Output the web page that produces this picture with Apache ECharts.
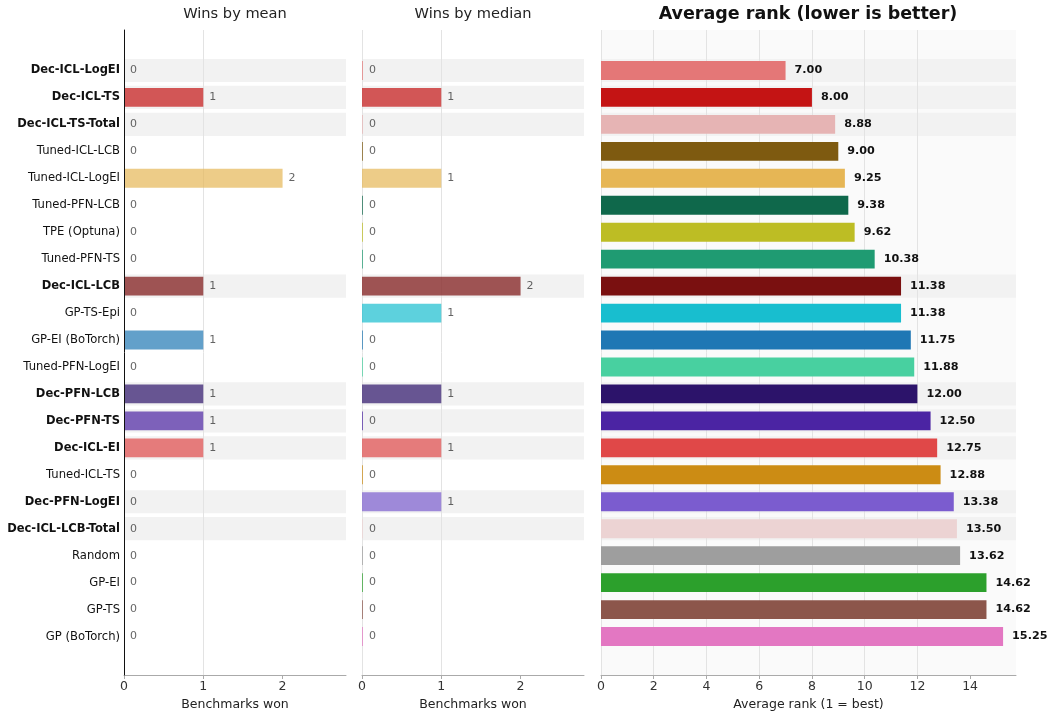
<!DOCTYPE html>
<html>
<head>
<meta charset="utf-8">
<title>Benchmark wins and average rank</title>
<script src="https://cdn.jsdelivr.net/npm/echarts@6/dist/echarts.min.js"></script>
<style>
  html, body { margin: 0; padding: 0; background: #ffffff; }
  #chart { width: 1050px; height: 711px; }
</style>
</head>
<body>
<div id="chart"></div>
<script>
// Methods, ordered by average rank (best first)
const methods = [
  'Dec-ICL-LogEI', 'Dec-ICL-TS', 'Dec-ICL-TS-Total', 'Tuned-ICL-LCB', 'Tuned-ICL-LogEI',
  'Tuned-PFN-LCB', 'TPE (Optuna)', 'Tuned-PFN-TS', 'Dec-ICL-LCB', 'GP-TS-Epi',
  'GP-EI (BoTorch)', 'Tuned-PFN-LogEI', 'Dec-PFN-LCB', 'Dec-PFN-TS', 'Dec-ICL-EI',
  'Tuned-ICL-TS', 'Dec-PFN-LogEI', 'Dec-ICL-LCB-Total', 'Random', 'GP-EI', 'GP-TS', 'GP (BoTorch)'
];

// Methods highlighted in bold with a shaded row
const highlighted = [
  'Dec-ICL-LogEI', 'Dec-ICL-TS', 'Dec-ICL-TS-Total', 'Dec-ICL-LCB', 'Dec-PFN-LCB',
  'Dec-PFN-TS', 'Dec-ICL-EI', 'Dec-PFN-LogEI', 'Dec-ICL-LCB-Total'
];

// Number of benchmarks won, judged by mean and by median
const winsMean   = [0, 1, 0, 0, 2, 0, 0, 0, 1, 0, 1, 0, 1, 1, 1, 0, 0, 0, 0, 0, 0, 0];
const winsMedian = [0, 1, 0, 0, 1, 0, 0, 0, 2, 1, 0, 0, 1, 0, 1, 0, 1, 0, 0, 0, 0, 0];

// Average rank across benchmarks (1 = best)
const avgRank = [7.00, 8.00, 8.88, 9.00, 9.25, 9.38, 9.62, 10.38, 11.38, 11.38, 11.75,
                 11.88, 12.00, 12.50, 12.75, 12.88, 13.38, 13.50, 13.62, 14.62, 14.62, 15.25];

// One colour per method
const colors = [
  '#e47777', '#c41414', '#e6b4b4', '#7e5a10', '#e6b655', '#0f684b', '#bdbd24', '#1f9b72',
  '#7a1010', '#18becf', '#1f77b4', '#48d0a0', '#2c136a', '#4b24a3', '#e04848', '#cc8c14',
  '#7b5ccf', '#ecd3d3', '#9e9e9e', '#2ca02c', '#8c564b', '#e377c2'
];

// Tick labels
const winTicks  = [0, 1, 2];
const rankTicks = [0, 2, 4, 6, 8, 10, 12, 14];

const FONT = 'DejaVu Sans';
const WIN_MAX = 2.8;
const RANK_MAX = 15.74;

// Panel geometry: outer frame spans the padded axes, inner grid holds the 22 rows
const TOP = 30, BOTTOM = 36;             // frame
const ROW_TOP = 57, ROW_BOTTOM = 61;     // rows
const panels = [
  { left: 124, width: 222 },
  { left: 362, width: 222 },
  { left: 601, width: 415 }
];

const grids = [];
panels.forEach(p => {
  grids.push({ left: p.left, width: p.width, top: TOP, bottom: BOTTOM,
               containLabel: false, outerBoundsMode: 'none', show: false, borderWidth: 0 });
  grids.push({ left: p.left, width: p.width, top: ROW_TOP, bottom: ROW_BOTTOM,
               containLabel: false, outerBoundsMode: 'none' });
});
// rank panel has a light backdrop
grids[4].show = true;
grids[4].backgroundColor = '#fafafa';

// Frame axes sit above the row shading (z 1) and below the bars (z 3)
function frameXAxis(gridIndex, max, ticks, name) {
  return {
    type: 'value', gridIndex, min: 0, max, z: 2,
    name, nameLocation: 'middle', nameGap: 20,
    nameTextStyle: { fontFamily: FONT, fontSize: 12.5, color: '#222' },
    axisLine: { show: true, lineStyle: { color: '#aaaaaa', width: 1 } },
    axisTick: { show: true, length: 4, lineStyle: { color: '#aaaaaa' }, customValues: ticks },
    axisLabel: { fontFamily: FONT, fontSize: 12.5, color: '#333', margin: 5, customValues: ticks },
    splitLine: { show: true, lineStyle: { color: '#e3e3e3', width: 1 }, showMaxLine: false }
  };
}
function rowXAxis(gridIndex, max) {
  return {
    type: 'value', gridIndex, min: 0, max,
    axisLine: { show: false }, axisTick: { show: false },
    axisLabel: { show: false }, splitLine: { show: false }
  };
}

const xAxis = [
  frameXAxis(0, WIN_MAX, winTicks, 'Benchmarks won'),
  rowXAxis(1, WIN_MAX),
  frameXAxis(2, WIN_MAX, winTicks, 'Benchmarks won'),
  rowXAxis(3, WIN_MAX),
  frameXAxis(4, RANK_MAX, rankTicks, 'Average rank (1 = best)'),
  rowXAxis(5, RANK_MAX)
];

function frameYAxis(gridIndex, showLine) {
  return {
    type: 'value', gridIndex, min: 0, max: 1, z: 5,
    axisLine: { show: showLine, lineStyle: { color: '#111', width: 1 } },
    axisTick: { show: false }, axisLabel: { show: false }, splitLine: { show: false }
  };
}
function rowYAxis(gridIndex, withLabels) {
  return {
    type: 'category', gridIndex, data: methods, inverse: true,
    axisLine: { show: false }, axisTick: { show: false }, splitLine: { show: false },
    axisLabel: {
      show: withLabels, margin: 4, fontFamily: FONT, fontSize: 11.6, color: '#111',
      formatter: v => highlighted.includes(v) ? '{b|' + v + '}' : v,
      rich: { b: { fontFamily: FONT, fontSize: 11.5, fontWeight: 'bold', color: '#111' } }
    }
  };
}

// y axes: 0 frame-mean, 1 rows-mean, 2 shade-mean, 3 frame-median, 4 rows-median,
// 5 shade-median, 6 frame-rank, 7 rows-rank, 8 shade-rank
const yAxis = [
  frameYAxis(0, true), rowYAxis(1, true), rowYAxis(1, false),
  frameYAxis(2, false), rowYAxis(3, false), rowYAxis(3, false),
  frameYAxis(4, false), rowYAxis(5, false), rowYAxis(5, false)
];

function shadeSeries(xAxisIndex, yAxisIndex, max) {
  return {
    type: 'bar', xAxisIndex, yAxisIndex, silent: true, barWidth: '86%', z: 1,
    itemStyle: { color: '#f2f2f2' },
    data: methods.map(m => highlighted.includes(m) ? max : '-')
  };
}
function winSeries(xAxisIndex, yAxisIndex, values, minLen) {
  return {
    type: 'bar', xAxisIndex, yAxisIndex, barWidth: '70%', barMinHeight: minLen, z: 3,
    data: values.map((v, i) => ({ value: v, itemStyle: { color: colors[i], opacity: 0.7 } })),
    label: {
      show: true, position: 'right', distance: 6,
      fontFamily: FONT, fontSize: 11, color: '#222',
      formatter: p => String(p.value)
    }
  };
}

const series = [
  shadeSeries(1, 2, WIN_MAX),
  winSeries(1, 1, winsMean, 0),
  shadeSeries(3, 5, WIN_MAX),
  winSeries(3, 4, winsMedian, 1),
  shadeSeries(5, 8, RANK_MAX),
  {
    type: 'bar', xAxisIndex: 5, yAxisIndex: 7, barWidth: '70%', z: 3,
    data: avgRank.map((v, i) => ({ value: v, itemStyle: { color: colors[i] } })),
    label: {
      show: true, position: 'right', distance: 9,
      fontFamily: FONT, fontSize: 11.2, fontWeight: 'bold', color: '#111',
      formatter: p => p.value.toFixed(2)
    }
  }
];

const titleStyle = { fontFamily: FONT, fontSize: 14.6, fontWeight: 'normal', color: '#222' };
const option = {
  animation: false,
  backgroundColor: '#ffffff',
  title: [
    { text: 'Wins by mean', left: 235, top: 7, padding: 0, textAlign: 'center', textStyle: titleStyle },
    { text: 'Wins by median', left: 473, top: 7, padding: 0, textAlign: 'center', textStyle: titleStyle },
    { text: 'Average rank (lower is better)', left: 808, top: 5, padding: 0, textAlign: 'center',
      textStyle: { fontFamily: FONT, fontSize: 17.5, fontWeight: 'bold', color: '#111' } }
  ],
  grid: grids,
  xAxis,
  yAxis,
  series
};

const chart = echarts.init(document.getElementById('chart'), null, { renderer: 'canvas' });
chart.setOption(option);
</script>
</body>
</html>
